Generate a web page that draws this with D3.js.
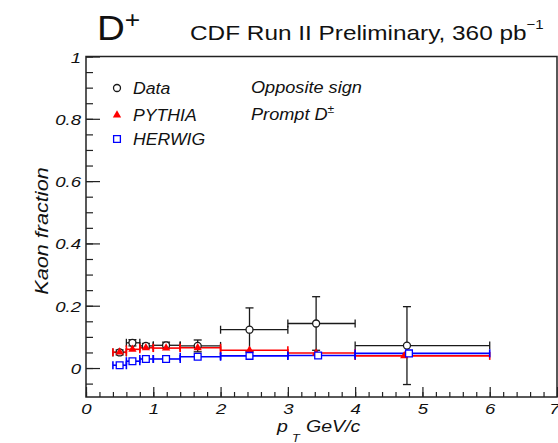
<!DOCTYPE html>
<html>
<head>
<meta charset="utf-8">
<script src="https://cdn.jsdelivr.net/npm/d3@7"></script>
<style>
  body { margin: 0; background: #fff; }
  svg text { font-family: "Liberation Sans", Arial, Helvetica, sans-serif; fill: #111; }
</style>
</head>
<body>
<div id="container"></div>
<script>
// canvas size and frame
var width = 558;
var height = 443;
var frameLeft = 86, frameRight = 557, frameTop = 56.5, frameBottom = 397;

//-----------------------------DATA------------------------------//
// pT bins (GeV/c)
var binLo = [0.4, 0.6, 0.8, 1.0, 1.4, 2.0, 3.0, 4.0];
var binHi = [0.6, 0.8, 1.0, 1.4, 2.0, 3.0, 4.0, 6.0];

// measured kaon fraction
var dataX = [0.50, 0.69, 0.89, 1.19, 1.66, 2.43, 3.42, 4.77];
var dataY = [0.050, 0.081, 0.071, 0.073, 0.071, 0.123, 0.143, 0.072];
var dataErr = [0.008, 0.010, 0.008, 0.010, 0.019, 0.070, 0.086, 0.125];

// PYTHIA prediction
var pythiaX = [0.50, 0.69, 0.89, 1.19, 1.66, 2.43, 3.42, 4.73];
var pythiaY = [0.051, 0.060, 0.065, 0.064, 0.065, 0.057, 0.048, 0.039];

// HERWIG prediction
var herwigX = [0.50, 0.69, 0.89, 1.19, 1.66, 2.43, 3.45, 4.80];
var herwigY = [0.009, 0.022, 0.029, 0.029, 0.036, 0.039, 0.040, 0.047];

// axis ticks
var xTicks = [0, 1, 2, 3, 4, 5, 6, 7];
var yTicks = [0, 0.2, 0.4, 0.6, 0.8, 1];

var legendNames = ["Data", "PYTHIA", "HERWIG"];

//----------------------------SCALES-----------------------------//
var xScale = d3.scaleLinear().domain([0, 7]).range([frameLeft, frameRight]);
var yScale = d3.scaleLinear().domain([-0.093, 1]).range([frameBottom, frameTop]);

var svg = d3.select("div#container").append("svg")
    .attr("width", width)
    .attr("height", height);

// text looks a bit wider than plain Helvetica in the original, so stretch it
function place(sel, x, y, sx) {
    return sel.attr("x", 0).attr("y", 0).attr("dy", null)
        .attr("transform", "translate(" + x + "," + y + ") scale(" + sx + ",1)");
}

//-----------------------------AXES------------------------------//
var fmt = d3.format("~g");

// x axis, ticks pointing up into the frame
var xMajor = svg.append("g")
    .attr("transform", "translate(0," + frameBottom + ")")
    .call(d3.axisBottom(xScale).tickValues(xTicks).tickSize(-10).tickSizeOuter(0).tickFormat(fmt));
var xMinor = svg.append("g")
    .attr("transform", "translate(0," + frameBottom + ")")
    .call(d3.axisBottom(xScale).tickValues(d3.range(0, 36).map(function (i) { return i * 0.2; }))
        .tickSize(-5).tickSizeOuter(0).tickFormat(""));

// y axis, ticks pointing right into the frame
var yMajor = svg.append("g")
    .attr("transform", "translate(" + frameLeft + ",0)")
    .call(d3.axisLeft(yScale).tickValues(yTicks).tickSize(-14).tickSizeOuter(0).tickFormat(fmt));
var yMinor = svg.append("g")
    .attr("transform", "translate(" + frameLeft + ",0)")
    .call(d3.axisLeft(yScale).tickValues(d3.range(-1, 21).map(function (i) { return i * 0.05; }))
        .tickSize(-7).tickSizeOuter(0).tickFormat(""));

[xMajor, xMinor, yMajor, yMinor].forEach(function (g) {
    g.select(".domain").remove();
    g.selectAll(".tick line").attr("stroke", "#222").attr("stroke-width", 1.2);
});

// the last x label sits on the right edge, as in the original it is nudged in a little
xMajor.selectAll(".tick text")
    .style("font-size", "15.5px").style("font-style", "italic")
    .attr("fill", "#111")
    .each(function (d) { place(d3.select(this), d == 7 ? -3 : 0, 16.5, 1.2); });

yMajor.selectAll(".tick text")
    .style("font-size", "15.5px").style("font-style", "italic")
    .attr("fill", "#111")
    .each(function () { place(d3.select(this), -5, 5.5, 1.2); });

svg.selectAll("g").attr("font-family", null).attr("font-size", null);

// frame
svg.append("rect")
    .attr("x", frameLeft)
    .attr("y", frameTop)
    .attr("width", frameRight - frameLeft)
    .attr("height", frameBottom - frameTop)
    .attr("fill", "none")
    .attr("stroke", "#222")
    .attr("stroke-width", 1.5);

// axis titles
var xt = svg.append("g").style("font-style", "italic").style("font-size", "17px");
place(xt.append("text").text("p"), 277, 432, 1.15);
place(xt.append("text").text("T").style("font-size", "11px"), 292, 442, 1.15);
place(xt.append("text").text("GeV/c"), 306, 432, 1.15);

svg.append("text")
    .style("font-style", "italic")
    .style("font-size", "18.5px")
    .style("text-anchor", "middle")
    .attr("transform", "translate(48,231) rotate(-90) scale(1.17,1)")
    .text("Kaon fraction");

//----------------------------SERIES------------------------------//
function rows(xs, ys, errs) {
    return xs.map(function (x, i) {
        return { x: x, y: ys[i], err: errs ? errs[i] : 0, lo: binLo[i], hi: binHi[i] };
    });
}

var series = [
    { name: "Data", color: "#1a1a1a", values: rows(dataX, dataY, dataErr) },
    { name: "PYTHIA", color: "#ff0000", values: rows(pythiaX, pythiaY) },
    { name: "HERWIG", color: "#0000ff", values: rows(herwigX, herwigY) }
];

var cap = 4;

series.forEach(function (s) {
    var g = svg.append("g")
        .attr("stroke", s.color)
        .attr("stroke-width", s.name == "Data" ? 1.3 : 1.6);

    var pts = g.selectAll("g.pt").data(s.values).enter().append("g").attr("class", "pt");

    // horizontal bin width bar and its caps
    pts.append("line")
        .attr("x1", function (d) { return xScale(d.lo); })
        .attr("x2", function (d) { return xScale(d.hi); })
        .attr("y1", function (d) { return yScale(d.y); })
        .attr("y2", function (d) { return yScale(d.y); });
    pts.append("line")
        .attr("x1", function (d) { return xScale(d.lo); })
        .attr("x2", function (d) { return xScale(d.lo); })
        .attr("y1", function (d) { return yScale(d.y) - cap; })
        .attr("y2", function (d) { return yScale(d.y) + cap; });
    pts.append("line")
        .attr("x1", function (d) { return xScale(d.hi); })
        .attr("x2", function (d) { return xScale(d.hi); })
        .attr("y1", function (d) { return yScale(d.y) - cap; })
        .attr("y2", function (d) { return yScale(d.y) + cap; });

    // vertical error bar (data only)
    var withErr = pts.filter(function (d) { return d.err > 0; });
    withErr.append("line")
        .attr("x1", function (d) { return xScale(d.x); })
        .attr("x2", function (d) { return xScale(d.x); })
        .attr("y1", function (d) { return yScale(d.y - d.err); })
        .attr("y2", function (d) { return yScale(d.y + d.err); });
    [-1, 1].forEach(function (sgn) {
        withErr.append("line")
            .attr("x1", function (d) { return xScale(d.x) - cap; })
            .attr("x2", function (d) { return xScale(d.x) + cap; })
            .attr("y1", function (d) { return yScale(d.y + sgn * d.err); })
            .attr("y2", function (d) { return yScale(d.y + sgn * d.err); });
    });
});

// markers on top of all bars
function marker(sel, name) {
    if (name == "Data") {
        sel.append("circle").attr("r", 3.5)
            .attr("fill", "#fff").attr("stroke", "#1a1a1a").attr("stroke-width", 1.3);
    } else if (name == "PYTHIA") {
        sel.append("path").attr("d", d3.symbol(d3.symbolTriangle).size(30)())
            .attr("fill", "#ff0000");
    } else {
        sel.append("path").attr("d", d3.symbol(d3.symbolSquare).size(46)())
            .attr("fill", "#fff").attr("stroke", "#0000ff").attr("stroke-width", 1.3);
    }
}

series.forEach(function (s) {
    svg.append("g").selectAll("g").data(s.values).enter().append("g")
        .attr("transform", function (d) { return "translate(" + xScale(d.x) + "," + yScale(d.y) + ")"; })
        .each(function () { marker(d3.select(this), s.name); });
});

//----------------------------LEGEND------------------------------//
var legendY = [88, 115, 139];
legendNames.forEach(function (name, i) {
    marker(svg.append("g").attr("transform", "translate(117," + legendY[i] + ")"), name);
    place(svg.append("text").text(name)
        .style("font-style", "italic").style("font-size", "16.5px"), 133, legendY[i] + 5.5, 1.07);
});

var note = svg.append("g").style("font-style", "italic").style("font-size", "16.5px");
place(note.append("text").text("Opposite sign"), 251, 93, 1.1);
var prompt = place(note.append("text"), 251, 120, 1.1);
prompt.append("tspan").text("Prompt D");
prompt.append("tspan").text("\u00b1").style("font-size", "11px").attr("dy", -7);

//----------------------------TITLES------------------------------//
var dplus = place(svg.append("text"), 97, 40, 1.1);
dplus.append("tspan").text("D").style("font-size", "35px");
dplus.append("tspan").text("+").style("font-size", "24px").attr("dy", -12);

var title = place(svg.append("text").style("font-size", "21px"), 190, 40, 1.16);
title.append("tspan").text("CDF Run II Preliminary, 360 pb");
title.append("tspan").text("\u22121").style("font-size", "13px").attr("dy", -11);
</script>
</body>
</html>
